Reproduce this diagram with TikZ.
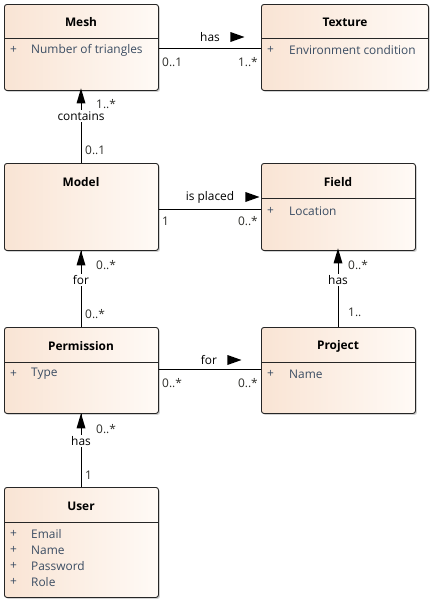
\documentclass[tikz,border=0pt]{standalone}
\usepackage{fontspec}
\setmainfont{Open Sans}
\usetikzlibrary{shadows,shapes.geometric}
\definecolor{peach}{HTML}{F9E4D4}
\definecolor{peachr}{HTML}{FFFAF6}
\definecolor{attrc}{HTML}{3B4D63}
\definecolor{multc}{HTML}{2E2E2A}
\newcommand{\fs}{\fontsize{11.9}{13}\selectfont}
\tikzset{
 umlbox/.style={draw=black!85, line width=0.9pt, rounded corners=2.5pt, left color=peach, right color=peachr, anchor=north west, inner sep=0pt,
   drop shadow={shadow xshift=1.5pt, shadow yshift=-1.5pt, fill=black!35, opacity=0.5}},
 ttl/.style={font=\fs\bfseries, inner sep=0pt},
 attr/.style={font=\fs, text=attrc, anchor=west, inner sep=0pt},
 plus/.style={font=\fs, text=attrc, inner sep=0pt},
 lbl/.style={font=\fs, inner sep=1pt},
 vlbl/.style={font=\fs, inner sep=1.5pt, fill=white},
 mult/.style={font=\fs, text=multc, inner sep=0pt},
 conn/.style={draw=black, line width=0.9pt},
 sep/.style={draw=black!85, line width=0.9pt},
 tri/.style={isosceles triangle, isosceles triangle stretches, fill=black, draw=none, inner sep=0pt},
 uptri/.style={tri, shape border rotate=90, minimum height=15pt, minimum width=9pt},
 rtri/.style={tri, shape border rotate=0, minimum height=14pt, minimum width=10pt},
}
\begin{document}
\begin{tikzpicture}[x=1pt,y=-1pt]
\useasboundingbox (0,0) rectangle (431,600);
% boxes
\node[umlbox, minimum width=154pt, minimum height=86pt] (mesh) at (4,4) {};
\node[umlbox, minimum width=167pt, minimum height=86pt] (texture) at (261,4) {};
\node[umlbox, minimum width=154pt, minimum height=87pt] (model) at (4,163) {};
\node[umlbox, minimum width=154pt, minimum height=87pt] (field) at (261,163) {};
\node[umlbox, minimum width=154pt, minimum height=86pt] (permission) at (4,327) {};
\node[umlbox, minimum width=154pt, minimum height=86pt] (project) at (261,327) {};
\node[umlbox, minimum width=154pt, minimum height=110pt] (user) at (4,487) {};
% separators
\draw[sep] (mesh.west |- 0,38) -- (mesh.east |- 0,38);
\draw[sep] (texture.west |- 0,38) -- (texture.east |- 0,38);
\draw[sep] (field.west |- 0,198) -- (field.east |- 0,198);
\draw[sep] (permission.west |- 0,362) -- (permission.east |- 0,362);
\draw[sep] (project.west |- 0,362) -- (project.east |- 0,362);
\draw[sep] (user.west |- 0,522) -- (user.east |- 0,522);
% titles
\node[ttl] (tmesh) at (81,22) {Mesh};
\node[ttl] (ttexture) at (345,22) {Texture};
\node[ttl] (tmodel) at (81,182) {Model};
\node[ttl] (tfield) at (338,182) {Field};
\node[ttl] (tpermission) at (81,346) {Permission};
\node[ttl] (tproject) at (338,346) {Project};
\node[ttl] (tuser) at (81,506) {User};
% attributes
\node[plus] (pm1) at (13.5,50) {+};
\node[attr] (am1) at (31,50) {Number of triangles};
\node[plus] (pt1) at (270.5,50) {+};
\node[attr] (at1) at (289,50) {Environment condition};
\node[plus] (pf1) at (270.5,211) {+};
\node[attr] (af1) at (289,211) {Location};
\node[plus] (pp1) at (13.5,374) {+};
\node[attr] (ap1) at (31,374) {Type};
\node[plus] (pj1) at (270.5,374) {+};
\node[attr] (aj1) at (289,374) {Name};
\node[plus] (pu1) at (13.5,534) {+};
\node[attr] (au1) at (31,534) {Email};
\node[plus] (pu2) at (13.5,550) {+};
\node[attr] (au2) at (31,550) {Name};
\node[plus] (pu3) at (13.5,566) {+};
\node[attr] (au3) at (31,566) {Password};
\node[plus] (pu4) at (13.5,582) {+};
\node[attr] (au4) at (31,582) {Role};
% horizontal connectors
\draw[conn] (mesh.east |- 0,48) -- (texture.west |- 0,48);
\node[lbl] (lhas1) at (210,37) {has};
\node[rtri] (ahas1) at (234,37) {};
\node[mult, anchor=west] (m1a) at (162,62) {0..1};
\node[mult, anchor=east] (m1b) at (258,62) {1..*};

\draw[conn] (model.east |- 0,209) -- (field.west |- 0,209);
\node[lbl] (lplaced) at (210,197) {is placed};
\node[rtri] (aplaced) at (249,197) {};
\node[mult, anchor=west] (m2a) at (162,221) {1};
\node[mult, anchor=east] (m2b) at (258,221) {0..*};

\draw[conn] (permission.east |- 0,369) -- (project.west |- 0,369);
\node[lbl] (lfor2) at (209,360) {for};
\node[rtri] (afor2) at (231,360) {};
\node[mult, anchor=west] (m3a) at (162,383) {0..*};
\node[mult, anchor=east] (m3b) at (258,383) {0..*};
% vertical connectors
\draw[conn] (mesh.south) -- (model.north);
\node[uptri] (acont) at (81,100) {};
\node[vlbl] (lcont) at (81,116) {contains};
\node[mult, anchor=west] (m4a) at (96,104) {1..*};
\node[mult, anchor=west] (m4b) at (85,150) {0..1};

\draw[conn] (model.south) -- (permission.north);
\node[uptri] (afor1) at (81,262) {};
\node[vlbl] (lfor1) at (81,280) {for};
\node[mult, anchor=west] (m5a) at (96,265) {0..*};
\node[mult, anchor=west] (m5b) at (85,314) {0..*};

\draw[conn] (field.south) -- (project.north);
\node[uptri] (ahas2) at (338,260) {};
\node[vlbl] (lhas2) at (338,280) {has};
\node[mult, anchor=west] (m6a) at (348,265) {0..*};
\node[mult, anchor=west] (m6b) at (348,312) {1..};

\draw[conn] (permission.south) -- (user.north);
\node[uptri] (ahas3) at (81,425) {};
\node[vlbl] (lhas3) at (81,441) {has};
\node[mult, anchor=west] (m7a) at (96,429) {0..*};
\node[mult, anchor=west] (m7b) at (85,475) {1};
\end{tikzpicture}
\end{document}
